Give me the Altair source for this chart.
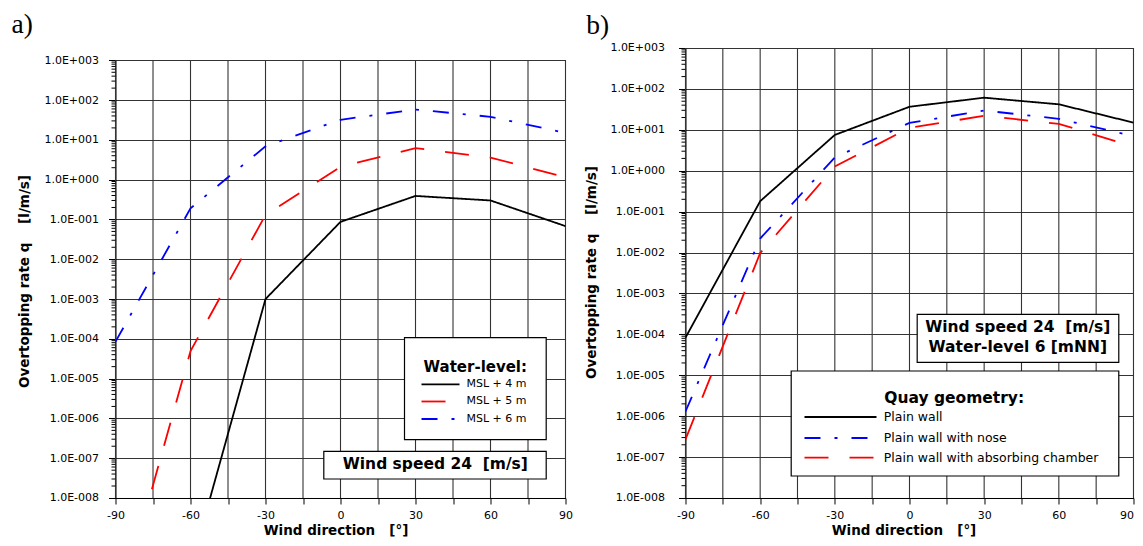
import altair as alt
import pandas as pd

# ---------------- data ----------------
directions = [-90, -60, -30, 0, 30, 60, 90]

# panel a) : different water levels
wl_names = ["MSL + 4 m", "MSL + 5 m", "MSL + 6 m"]
q_msl4 = [1e-16, 1.7e-10, 1.0e-3, 0.087, 0.39, 0.30, 0.068]
q_msl5 = [9e-12, 4.9e-5, 0.13, 2.1, 6.2, 3.6, 1.15]
q_msl6 = [8.5e-5, 0.19, 6.9, 32.0, 58.0, 38.0, 15.0]

# panel b) : different quay geometries
qg_names = ["Plain wall", "Plain wall with nose", "Plain wall with absorbing chamber"]
q_plain = [8.3e-5, 0.18, 7.5, 36.6, 61.0, 42.0, 15.0]
q_nose = [1.3e-6, 0.022, 2.1, 14.8, 29.6, 18.6, 7.0]
q_chamber = [2.7e-7, 0.0097, 1.27, 11.2, 22.0, 14.0, 3.9]

x_ticks = list(range(-90, 91, 15))
y_decades = [10.0 ** k for k in range(-8, 4)]
y_minor = [m * 10.0 ** k for k in range(-8, 3) for m in range(2, 10)]

FONT = "DejaVu Sans"
SOLID = [1, 0]
LONGDASH = [24, 21]
DASHDOT = [16, 14, 3, 14]
NB = "\u00a0"


def long_df(names, series):
    rows = []
    for n, vals in zip(names, series):
        for d, v in zip(directions, vals):
            rows.append({"dir": d, "q": v, "series": n})
    return pd.DataFrame(rows)


one = pd.DataFrame({"k": [0]})


def box(x1, x2, y1, y2):
    return alt.Chart(one).mark_rect(fill="white", stroke="black", strokeWidth=1.2).encode(
        x=alt.value(x1), x2=alt.value(x2), y=alt.value(y1), y2=alt.value(y2))


def label(txt, x, y, size, weight="normal", align="left", baseline="middle", font=FONT):
    return alt.Chart(one).mark_text(text=txt, fontSize=size, fontWeight=weight, align=align,
                                    baseline=baseline, font=font, color="black").encode(
        x=alt.value(x), y=alt.value(y))


def sample(x1, x2, y, color, dash):
    return alt.Chart(one).mark_rule(color=color, strokeWidth=1.8, strokeDash=dash).encode(
        x=alt.value(x1), x2=alt.value(x2), y=alt.value(y))


LABEL_EXPR = ("'1.0E' + (round(log(datum.value)/LN10) < 0 ? '-' : '+') + "
              "(abs(round(log(datum.value)/LN10)) < 10 ? '00' : '0') + abs(round(log(datum.value)/LN10))")

H = 450


def panel(df, names, colors, dashes, width, yrange, title_x, title_y, lab_pad, deco, last_right, xtitle_x):
    xs = alt.Scale(domain=[-90, 90], nice=False, zero=False)
    ys = alt.Scale(type="log", domain=[1e-8, 1e3], nice=False, range=yrange)
    x_align = ({"condition": {"test": "datum.value >= 90", "value": "right"}, "value": "center"}
               if last_right else "center")
    xa = alt.Axis(values=x_ticks, labelExpr="datum.value % 30 == 0 ? '' + datum.value : ''",
                  tickSize=6, labelPadding=6, labelFlush=False, labelOverlap=False, grid=False,
                  labelAlign=x_align,
                  labelFont=FONT, labelFontSize=11, labelColor="black",
                  domainColor="black", tickColor="black",
                  title="Wind direction" + NB * 3 + "[°]", titleFont=FONT, titleFontSize=13.5,
                  titleFontWeight="bold", titleX=xtitle_x, titleY=36.3, titleBaseline="alphabetic",
                  titleColor="black")
    ya = alt.Axis(values=y_decades, labelExpr=LABEL_EXPR, tickSize=7, labelPadding=lab_pad,
                  labelFont=FONT, labelFontSize=11, labelColor="black", labelOverlap=False,
                  domainColor="black", tickColor="black",
                  grid=True, gridColor="#333333", gridWidth=1.1,
                  title="Overtopping rate q" + NB * 4 + "[l/m/s]", titleFont=FONT, titleFontSize=13.5,
                  titleFontWeight="bold", titleX=title_x, titleY=title_y, titleAngle=-90,
                  titleBaseline="middle", titleAlign="center", titleColor="black")
    grid_df = pd.DataFrame({"gx": x_ticks, "gy0": [1e-8] * len(x_ticks), "gy1": [1e3] * len(x_ticks)})
    grid = alt.Chart(grid_df).mark_rule(color="#333333", strokeWidth=1.1).encode(
        x=alt.X("gx:Q", scale=xs, axis=xa),
        y=alt.Y("gy0:Q", scale=ys, axis=ya), y2="gy1:Q")
    minor = alt.Chart(pd.DataFrame({"mv": y_minor})).mark_rule(color="black", strokeWidth=1).encode(
        x=alt.value(-4), x2=alt.value(0), y=alt.Y("mv:Q", scale=ys, axis=ya))
    lines = alt.Chart(df).mark_line(clip=True, strokeWidth=1.8).encode(
        x=alt.X("dir:Q", scale=xs, axis=xa),
        y=alt.Y("q:Q", scale=ys, axis=ya),
        color=alt.Color("series:N", scale=alt.Scale(domain=names, range=colors), legend=None),
        strokeDash=alt.StrokeDash("series:N", scale=alt.Scale(domain=names, range=dashes), legend=None),
    )
    return alt.layer(grid, minor, lines, *deco).properties(width=width, height=H)


# ---------------- panel a ----------------
df_a = long_df(wl_names, [q_msl4, q_msl5, q_msl6])
deco_a = [
    label("a)", -104, -14.7, 27.5, font="Liberation Serif", baseline="alphabetic"),
    box(289, 430.7, 289.6, 391.6),
    label("Water-level:", 359.8, 324, 15, weight="bold", align="center", baseline="alphabetic"),
    sample(306, 344, 336.3, "black", SOLID),
    sample(306, 344, 353.5, "red", LONGDASH),
    sample(306, 344, 371, "blue", DASHDOT),
    label(wl_names[0], 351, 336.3, 11),
    label(wl_names[1], 351, 353.5, 11),
    label(wl_names[2], 351, 371, 11),
    box(208.3, 430.7, 403.3, 431),
    label("Wind speed 24" + NB * 2 + "[m/s]", 319.8, 416, 15.5, weight="bold", align="center"),
]
left = panel(df_a, wl_names, ["black", "red", "blue"], [SOLID, LONGDASH, DASHDOT],
             450, [H, 12.3], -91, 233, 10, deco_a, False, 220)

# ---------------- panel b ----------------
df_b = long_df(qg_names, [q_plain, q_nose, q_chamber])
deco_b = [
    label("b)", -99.3, -14.4, 27.5, font="Liberation Serif", baseline="alphabetic"),
    box(231.7, 433.3, 266.3, 314.3),
    label("Wind speed 24" + NB * 2 + "[m/s]", 332.3, 279.5, 15.5, weight="bold", align="center"),
    label("Water-level 6 [mNN]", 332.3, 299.5, 15.5, weight="bold", align="center"),
    box(105.7, 433.3, 323, 428),
    label("Quay geometry:", 268.7, 355, 15.5, weight="bold", align="center", baseline="alphabetic"),
    sample(119, 191, 369, "black", SOLID),
    sample(119, 191, 390, "blue", DASHDOT),
    sample(119, 191, 409.6, "red", LONGDASH),
    label(qg_names[0], 198.3, 369, 12.5),
    label(qg_names[1], 198.3, 390, 12.5),
    label(qg_names[2], 198.3, 409.6, 12.5),
]
right = panel(df_b, qg_names, ["black", "blue", "red"], [SOLID, DASHDOT, LONGDASH],
              448, [H, 0], -94, 224, 14, deco_b, True, 218)

chart = alt.hconcat(left, right, spacing=12,
                    padding={"left": 3.5, "top": 3, "right": 0, "bottom": 1.2}).resolve_scale(
    color="independent", strokeDash="independent").configure_view(stroke=None)

chart.save("out.html", embed_options={"renderer": "svg", "actions": False})
